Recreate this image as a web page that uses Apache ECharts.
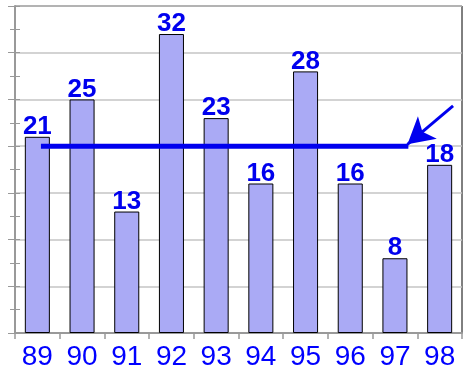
<!DOCTYPE html>
<html><head><meta charset="utf-8">
<script src="https://cdn.jsdelivr.net/npm/echarts@6/dist/echarts.min.js"></script>
<style>html,body{margin:0;padding:0;background:#fff}#c{width:467px;height:373px}</style>
</head><body><div id="c"></div>
<script>
var categories = ['89','90','91','92','93','94','95','96','97','98'];
var values = [21,25,13,32,23,16,28,16,8,18];
var yTicks = [0,5,10,15,20,25,30,35];
// mean line span and arrow ends, in category units on a helper axis (0..10)
var meanSpan = [0.58, 8.8];
var arrowFrom = [9.8, 24.3];
var arrowTo = [8.78, 20.2];

var mean = values.reduce(function(a,b){return a+b;},0)/values.length;
var blue = '#0000ee';

var chart = echarts.init(document.getElementById('c'));
chart.setOption({
  animation:false,
  grid:{left:15,right:5,top:6,bottom:40,show:true,borderColor:'#000',borderWidth:1,backgroundColor:'transparent'},
  xAxis:[{
    type:'category', data:categories,
    axisLine:{lineStyle:{color:'#999',width:2}},
    axisTick:{show:true,length:6,lineStyle:{color:'#999',width:1.5}},
    axisLabel:{color:'#0000ff',fontSize:28,fontFamily:'Liberation Sans, Arial',margin:10}
  },{
    type:'value', min:0, max:10, show:false
  }],
  yAxis:[{
    type:'value', min:yTicks[0], max:yTicks[yTicks.length-1], interval:5,
    axisLine:{show:true,lineStyle:{color:'#999',width:2}},
    axisTick:{show:true,length:7,lineStyle:{color:'#999',width:1}},
    minorTick:{show:true,splitNumber:2,length:5,lineStyle:{color:'#999',width:1}},
    splitLine:{show:true,lineStyle:{color:'#c4c4c4',width:1.5}},
    axisLabel:{show:false}
  },{
    type:'value', min:yTicks[0], max:yTicks[yTicks.length-1], interval:5, position:'left',
    axisLine:{show:false},
    axisTick:{show:true,inside:true,length:5,lineStyle:{color:'#999',width:1}},
    minorTick:{show:true,splitNumber:2,length:5,lineStyle:{color:'#999',width:1}},
    splitLine:{show:false},
    axisLabel:{show:false}
  }],
  series:[{
    type:'bar', data:values, barWidth:'56%',
    itemStyle:{color:'#aaaaf5',borderColor:'#000',borderWidth:1},
    label:{show:true,position:'top',distance:-3,color:blue,fontSize:26,fontWeight:'bold',fontFamily:'Liberation Sans, Arial'}
  },{
    type:'line', xAxisIndex:1, yAxisIndex:0,
    data:[[meanSpan[0],mean],[meanSpan[1],mean]],
    symbol:'none', lineStyle:{color:blue,width:5}, z:5,
    markLine:{
      silent:true, symbol:['none','arrow'], symbolSize:[22,26],
      lineStyle:{color:blue,width:3,type:'solid'},
      label:{show:false},
      data:[[{coord:arrowFrom},{coord:arrowTo}]]
    }
  }]
});
</script></body></html>
